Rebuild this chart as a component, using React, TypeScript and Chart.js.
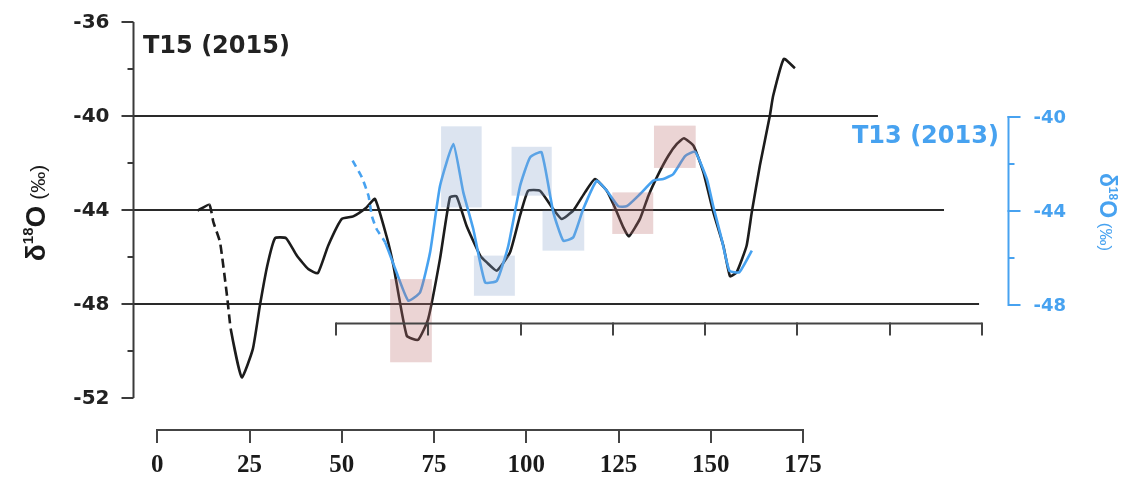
import React, { useEffect, useRef } from "react";
import { Chart, registerables } from "chart.js";

Chart.register(...registerables);

// ---------- DATA ----------
// T15 (2015) series, plotted on lower x axis (0..175)
const t15X = [10.9, 14.1, 15.2, 17.0, 19.0, 19.9, 22.9, 25.9, 27.8, 29.8, 31.9, 34.9, 37.8, 40.9, 43.5, 46.3, 50.0, 53.1, 56.7, 59.0, 62.2, 64.0, 67.6, 70.7, 73.4, 76.6, 79.3, 81.1, 83.8, 87.5, 89.3, 92.0, 95.6, 98.3, 100.5, 103.7, 107.3, 109.6, 112.7, 115.9, 118.6, 121.8, 124.0, 126.3, 127.8, 130.8, 133.1, 135.8, 138.5, 140.8, 142.7, 145.3, 148.0, 150.7, 153.4, 155.2, 157.0, 159.7, 161.1, 163.3, 166.0, 166.9, 169.8, 172.8];
const t15Y = [-44.03, -43.77, -44.52, -45.37, -47.79, -49.06, -51.12, -49.91, -48.07, -46.37, -45.2, -45.2, -45.94, -46.51, -46.69, -45.52, -44.38, -44.27, -43.89, -43.53, -45.16, -46.37, -49.35, -49.52, -48.64, -46.09, -43.46, -43.42, -44.67, -45.94, -46.23, -46.58, -45.8, -44.24, -43.18, -43.18, -43.96, -44.38, -44.03, -43.25, -42.68, -43.18, -43.89, -44.74, -45.12, -44.38, -43.39, -42.47, -41.69, -41.19, -40.95, -41.26, -42.4, -44.1, -45.52, -46.82, -46.65, -45.52, -44.1, -42.11, -39.99, -39.14, -37.57, -37.97];
const t15DashedSegments = [1, 2, 3, 4];

// T13 (2013) series, plotted on the upper (unlabelled) x axis and right y axis
const t13X = [4.5, 7.0, 8.8, 9.7, 11.0, 13.3, 16.4, 19.6, 22.8, 25.5, 28.2, 31.8, 34.5, 37.2, 40.4, 43.6, 46.7, 49.9, 52.6, 55.7, 58.9, 61.6, 64.3, 67.0, 70.7, 73.4, 76.5, 78.8, 82.4, 86.0, 88.7, 91.4, 94.6, 97.3, 100.5, 102.2, 104.5, 106.6, 109.3, 112.7];
const t13Y = [-41.9, -42.61, -43.39, -44.24, -44.81, -45.37, -46.65, -47.86, -47.5, -45.8, -42.97, -41.19, -43.25, -44.81, -47.08, -47.01, -45.52, -42.97, -41.76, -41.54, -44.1, -45.31, -45.16, -43.96, -42.75, -43.18, -43.84, -43.84, -43.32, -42.75, -42.68, -42.47, -41.71, -41.52, -42.68, -43.82, -45.23, -46.58, -46.65, -45.73];
const t13DashedSegments = [0, 1, 2, 3, 4];

// ticks
const xTicks = [0, 25, 50, 75, 100, 125, 150, 175];
const xTickLabels = ["0", "25", "50", "75", "100", "125", "150", "175"];
const x2Ticks = [0, 25, 50, 75, 100, 125, 150, 175];
const yTicks = [-36, -40, -44, -48, -52];
const yTickLabels = ["-36", "-40", "-44", "-48", "-52"];
const yMinorTicks = [-38, -42, -46, -50];
const y2Ticks = [-40, -44, -48];
const y2TickLabels = ["-40", "-44", "-48"];
const y2MinorTicks = [-42, -46];

// horizontal reference levels and where they end (lower x units)
const refLevels = [-40, -44, -48];
const refLevelEnds = [195.3, 213.2, 222.7];

// shaded boxes (lower x units)
const boxX0 = [63.1, 76.9, 85.8, 96.0, 104.4, 123.3, 134.6];
const boxX1 = [74.4, 87.9, 96.9, 106.9, 115.7, 134.4, 145.9];
const boxYTop = [-46.94, -40.44, -45.94, -41.31, -44.03, -43.25, -40.41];
const boxYBot = [-50.48, -43.89, -47.65, -43.39, -45.73, -45.02, -42.21];
const boxKind = ["red", "blue", "blue", "blue", "blue", "red", "red"];

const series1Label = "T15 (2015)";
const series2Label = "T13 (2013)";

// ---------- STYLE ----------
const BLUE = "#47a2f0";
const DARK = "#1c1c1c";
const AXIS = "#3a3a3a";
const SANS = '"Liberation Sans", "DejaVu Sans", Arial, sans-serif';
const SERIF = '"Liberation Serif", "DejaVu Serif", serif';
const DSANS = '"DejaVu Sans", "Liberation Sans", sans-serif';

function drawDeltaTitle(ctx: CanvasRenderingContext2D, cx: number, cy: number, angle: number, big: number, small: number, mid: number, color: string) {
  ctx.save();
  ctx.translate(cx, cy);
  ctx.rotate(angle);
  ctx.fillStyle = color;
  ctx.textBaseline = "alphabetic";
  ctx.textAlign = "left";
  const parts = [
    { t: "δ", f: `bold ${big}px ${SANS}`, dy: 0 },
    { t: "18", f: `bold ${small}px ${SANS}`, dy: -big * 0.42 },
    { t: "O", f: `bold ${big}px ${SANS}`, dy: 0 },
    { t: " (‰)", f: `${mid}px ${SANS}`, dy: 0 },
  ];
  let total = 0;
  const widths = parts.map((p) => {
    ctx.font = p.f;
    const w = ctx.measureText(p.t).width;
    total += w;
    return w;
  });
  let xx = -total / 2;
  const base = big * 0.36;
  parts.forEach((p, i) => {
    ctx.font = p.f;
    ctx.fillText(p.t, xx, base + p.dy);
    xx += widths[i];
  });
  ctx.restore();
}

const decorPlugin = {
  id: "decor",
  beforeDatasetsDraw(chart: any) {
    const { ctx } = chart;
    const x = chart.scales.x;
    const y = chart.scales.y;
    ctx.save();
    ctx.strokeStyle = "#2a2a2a";
    ctx.lineWidth = 2.2;
    refLevels.forEach((v, i) => {
      const py = Math.round(y.getPixelForValue(v));
      ctx.beginPath();
      ctx.moveTo(x.left, py);
      ctx.lineTo(x.getPixelForValue(refLevelEnds[i]), py);
      ctx.stroke();
    });
    ctx.restore();
  },
  afterDatasetsDraw(chart: any) {
    const { ctx } = chart;
    const x = chart.scales.x;
    const y = chart.scales.y;
    ctx.save();
    boxX0.forEach((_, i) => {
      const l = x.getPixelForValue(boxX0[i]);
      const r = x.getPixelForValue(boxX1[i]);
      const t = y.getPixelForValue(boxYTop[i]);
      const b = y.getPixelForValue(boxYBot[i]);
      ctx.fillStyle = boxKind[i] === "red" ? "rgba(190,112,112,0.30)" : "rgba(140,166,205,0.30)";
      ctx.fillRect(l, t, r - l, b - t);
    });
    ctx.restore();
  },
  afterDraw(chart: any) {
    const { ctx } = chart;
    const x = chart.scales.x;
    const x2 = chart.scales.x2;
    const y = chart.scales.y;
    const y2 = chart.scales.y2;
    ctx.save();
    ctx.lineCap = "butt";

    // left axis
    const ax = Math.round(x.left) + 0.5;
    ctx.strokeStyle = AXIS;
    ctx.lineWidth = 2;
    ctx.beginPath();
    ctx.moveTo(ax, y.getPixelForValue(-36));
    ctx.lineTo(ax, y.getPixelForValue(-52));
    ctx.stroke();
    yTicks.forEach((v) => {
      const py = Math.round(y.getPixelForValue(v));
      ctx.beginPath();
      ctx.moveTo(ax - 12, py);
      ctx.lineTo(ax, py);
      ctx.stroke();
    });
    yMinorTicks.forEach((v) => {
      const py = Math.round(y.getPixelForValue(v));
      ctx.beginPath();
      ctx.moveTo(ax - 6, py);
      ctx.lineTo(ax, py);
      ctx.stroke();
    });
    ctx.fillStyle = "#222";
    ctx.font = `bold 20px ${DSANS}`;
    ctx.textAlign = "right";
    ctx.textBaseline = "middle";
    yTicks.forEach((v, i) => {
      ctx.fillText(yTickLabels[i], ax - 24, y.getPixelForValue(v) + 1);
    });

    // lower x axis
    const by = y.bottom + 32;
    ctx.strokeStyle = "#444";
    ctx.beginPath();
    ctx.moveTo(x.getPixelForValue(xTicks[0]), by);
    ctx.lineTo(x.getPixelForValue(xTicks[xTicks.length - 1]), by);
    ctx.stroke();
    xTicks.forEach((v) => {
      const px = Math.round(x.getPixelForValue(v));
      ctx.beginPath();
      ctx.moveTo(px, by - 1);
      ctx.lineTo(px, by + 13);
      ctx.stroke();
    });
    ctx.fillStyle = "#1a1a1a";
    ctx.font = `bold 25px ${SERIF}`;
    ctx.textAlign = "center";
    xTicks.forEach((v, i) => {
      ctx.fillText(xTickLabels[i], x.getPixelForValue(v), by + 36);
    });

    // upper (T13) x axis
    const uy = Math.round(y.getPixelForValue(-48.8)) + 0.5;
    ctx.strokeStyle = "#444";
    ctx.beginPath();
    ctx.moveTo(x2.getPixelForValue(x2Ticks[0]), uy);
    ctx.lineTo(x2.getPixelForValue(x2Ticks[x2Ticks.length - 1]), uy);
    ctx.stroke();
    x2Ticks.forEach((v) => {
      const px = Math.round(x2.getPixelForValue(v));
      ctx.beginPath();
      ctx.moveTo(px, uy - 1);
      ctx.lineTo(px, uy + 12);
      ctx.stroke();
    });

    // right blue axis
    const rx = Math.round(x.right) + 0.5;
    ctx.strokeStyle = BLUE;
    ctx.lineWidth = 2;
    ctx.beginPath();
    ctx.moveTo(rx, y2.getPixelForValue(-40));
    ctx.lineTo(rx, y2.getPixelForValue(-48));
    ctx.stroke();
    y2Ticks.forEach((v) => {
      const py = Math.round(y2.getPixelForValue(v)) + 1;
      ctx.beginPath();
      ctx.moveTo(rx - 1, py);
      ctx.lineTo(rx + 12, py);
      ctx.stroke();
    });
    y2MinorTicks.forEach((v) => {
      const py = Math.round(y2.getPixelForValue(v)) + 1;
      ctx.beginPath();
      ctx.moveTo(rx, py);
      ctx.lineTo(rx + 6, py);
      ctx.stroke();
    });
    ctx.fillStyle = BLUE;
    ctx.font = `bold 18px ${DSANS}`;
    ctx.textAlign = "left";
    ctx.textBaseline = "middle";
    y2Ticks.forEach((v, i) => {
      ctx.fillText(y2TickLabels[i], rx + 25, y2.getPixelForValue(v) + 2);
    });

    // series labels
    ctx.font = `bold 24px ${DSANS}`;
    ctx.fillStyle = "#222";
    ctx.textAlign = "left";
    ctx.textBaseline = "middle";
    ctx.fillText(series1Label, x.left + 10, 47);
    ctx.fillStyle = BLUE;
    ctx.fillText(series2Label, 852, 137);

    // axis titles
    drawDeltaTitle(ctx, 35, 213, -Math.PI / 2, 28, 15, 21, "#1a1a1a");
    drawDeltaTitle(ctx, 1108, 212, Math.PI / 2, 23, 12, 17, BLUE);

    ctx.restore();
  },
};

export default function App() {
  const canvasRef = useRef<HTMLCanvasElement | null>(null);

  useEffect(() => {
    document.body.style.margin = "0";
    const canvas = canvasRef.current;
    if (!canvas) return;
    const pxPerUnit = 3.69;
    const zeroLower = 157.3;
    const zeroUpper = 336;
    const left = 133;
    const right = 1008;
    const chart = new Chart(canvas, {
      type: "line",
      data: {
        datasets: [
          {
            label: series2Label,
            data: t13X.map((v, i) => ({ x: v, y: t13Y[i] })),
            xAxisID: "x2",
            yAxisID: "y2",
            borderColor: BLUE,
            borderWidth: 2.6,
            pointRadius: 0,
            tension: 0.15,
            order: 0,
            segment: {
              borderDash: (ctx: any) => (t13DashedSegments.includes(ctx.p0DataIndex) ? [7, 5] : undefined),
            },
          },
          {
            label: series1Label,
            data: t15X.map((v, i) => ({ x: v, y: t15Y[i] })),
            xAxisID: "x",
            yAxisID: "y",
            borderColor: DARK,
            borderWidth: 2.6,
            pointRadius: 0,
            tension: 0.15,
            order: 1,
            segment: {
              borderDash: (ctx: any) => (t15DashedSegments.includes(ctx.p0DataIndex) ? [9, 5] : undefined),
            },
          },
        ],
      },
      options: {
        animation: false,
        responsive: false,
        maintainAspectRatio: false,
        layout: { padding: { left: left, right: 1131 - right, top: 22, bottom: 479 - 398 } },
        plugins: { legend: { display: false }, tooltip: { enabled: false } },
        scales: {
          x: {
            type: "linear",
            display: false,
            min: (left - zeroLower) / pxPerUnit,
            max: (right - zeroLower) / pxPerUnit,
          },
          x2: {
            type: "linear",
            display: false,
            min: (left - zeroUpper) / pxPerUnit,
            max: (right - zeroUpper) / pxPerUnit,
          },
          y: { type: "linear", display: false, min: -52, max: -36 },
          y2: { type: "linear", display: false, min: -52, max: -36 },
        },
      },
      plugins: [decorPlugin],
    });
    return () => chart.destroy();
  }, []);

  return (
    <div style={{ width: 1131, height: 479, background: "#fff" }}>
      <canvas ref={canvasRef} width={1131} height={479} style={{ display: "block" }} />
    </div>
  );
}
